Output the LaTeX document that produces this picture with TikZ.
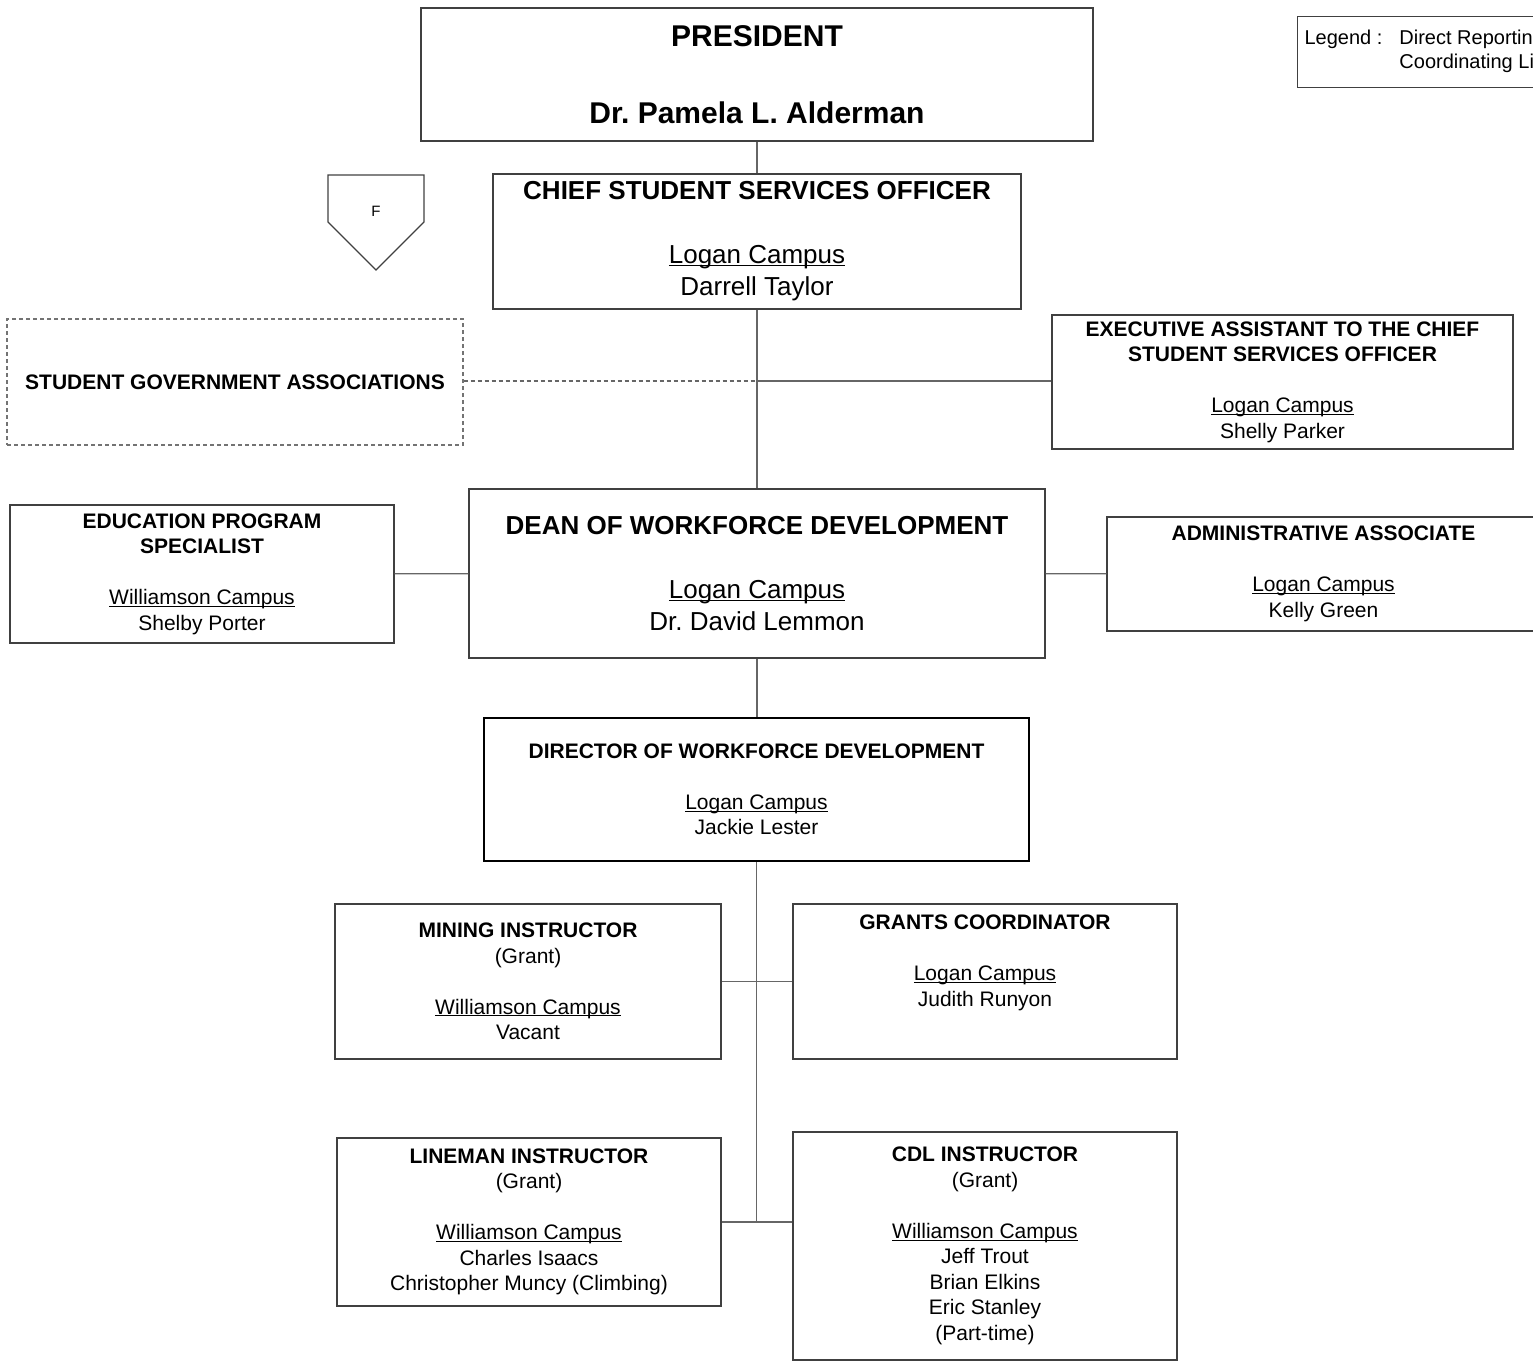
\documentclass[tikz,border=0pt]{standalone}
\usepackage{fontspec}
\setmainfont{Liberation Sans}
\usetikzlibrary{positioning}
\frenchspacing
\newcommand\fsz[2]{\fontsize{#1}{#2}\selectfont}
\newcommand\campus[1]{\setbox0\hbox{#1}\rlap{\rule[-2.2pt]{\wd0}{1.1pt}}\box0}

\begin{document}
\begin{tikzpicture}[x=1pt, y=-1pt,
  box/.style={draw=black!75, line width=1.2pt, rectangle, align=center, inner sep=0pt},
  small/.style={font=\fsz{21}{25.5}},
  big/.style={font=\fsz{26}{32}},
  link/.style={draw=black!60, line width=1.2pt}]
\useasboundingbox (0,0) rectangle (1533,1361);

\node[box, minimum width=672, minimum height=133, font=\fsz{30}{38.5}\bfseries] (pres) at (757,74.5) {PRESIDENT\\[38.5pt]Dr. Pamela L. Alderman};
\node[box, big, minimum width=528, minimum height=135] (csso) at (757,241.5) {\textbf{CHIEF STUDENT SERVICES OFFICER}\\[32pt]\campus{Logan Campus}\\Darrell Taylor};
\node[box, small, draw=black!55, dash pattern=on 4pt off 3pt, minimum width=456, minimum height=126] (sga) at (235,382) {\textbf{STUDENT GOVERNMENT ASSOCIATIONS}};
\node[box, small, minimum width=461, minimum height=134] (ea) at (1282.5,382) {\textbf{EXECUTIVE ASSISTANT TO THE CHIEF}\\\textbf{STUDENT SERVICES OFFICER}\\[25.5pt]\campus{Logan Campus}\\Shelly Parker};
\node[box, big, minimum width=576, minimum height=169] (dean) at (757,573.5) {\textbf{DEAN OF WORKFORCE DEVELOPMENT}\\[32pt]\campus{Logan Campus}\\Dr. David Lemmon};
\node[box, small, minimum width=384, minimum height=138] (eps) at (202,574) {\textbf{EDUCATION PROGRAM}\\\textbf{SPECIALIST}\\[25.5pt]\campus{Williamson Campus}\\Shelby Porter};
\node[box, small, minimum width=433, minimum height=114] (admin) at (1323.5,574) {\textbf{ADMINISTRATIVE ASSOCIATE}\\[25.5pt]\campus{Logan Campus}\\Kelly Green};
\node[box, small, draw=black, line width=2pt, minimum width=545, minimum height=143] (dir) at (756.5,789.5) {\textbf{DIRECTOR OF WORKFORCE DEVELOPMENT}\\[25.5pt]\campus{Logan Campus}\\Jackie Lester};
\node[box, small, minimum width=386, minimum height=155] (mining) at (528,981.5) {\textbf{MINING INSTRUCTOR}\\(Grant)\\[25.5pt]\campus{Williamson Campus}\\Vacant};
\node[box, small, minimum width=384, minimum height=155] (grants) at (985,981.5) {\textbf{GRANTS COORDINATOR}\\[25.5pt]\campus{Logan Campus}\\Judith Runyon\\[16.5pt]\mbox{}};
\node[box, small, minimum width=384, minimum height=168] (lineman) at (529,1222) {\textbf{LINEMAN INSTRUCTOR}\\(Grant)\\[25.5pt]\campus{Williamson Campus}\\Charles Isaacs\\Christopher Muncy (Climbing)};
\node[box, small, minimum width=384, minimum height=228] (cdl) at (985,1246) {\textbf{CDL INSTRUCTOR}\\(Grant)\\[25.5pt]\campus{Williamson Campus}\\Jeff Trout\\Brian Elkins\\Eric Stanley\\(Part-time)};

\draw[draw=black!75, line width=1.2pt] (328,175) -- (424,175) -- (424,222) -- (376,270) -- (328,222) -- cycle;
\node[font=\fsz{15}{18}] (flag) at (376,211) {F};

\node[box, font=\fsz{20}{24}, anchor=north west, minimum height=71, inner xsep=7pt, align=left] (legend) at (1297,16)
  {\begin{tabular}{@{}l@{\hspace{17pt}}l@{}}Legend : & Direct Reporting\\ & Coordinating Line\end{tabular}};

\coordinate (j1) at (757,381);
\coordinate (j3) at (757,1222);
\draw[link] (pres) -- (csso);
\draw[link] (csso) -- (dean);
\draw[link] (j1) -- (j1 -| ea.west);
\draw[link, dash pattern=on 4pt off 3pt] (j1 -| sga.east) -- (j1);
\draw[link] (eps) -- (dean);
\draw[link] (dean) -- (admin);
\draw[link] (dean.south) -- (dean.south |- dir.north);
\draw[link] (dir.south) -- (dir.south |- j3);
\draw[link] (mining.east) -- (grants.west);
\draw[link] (j3 -| lineman.east) -- (j3 -| cdl.west);
\end{tikzpicture}
\end{document}
